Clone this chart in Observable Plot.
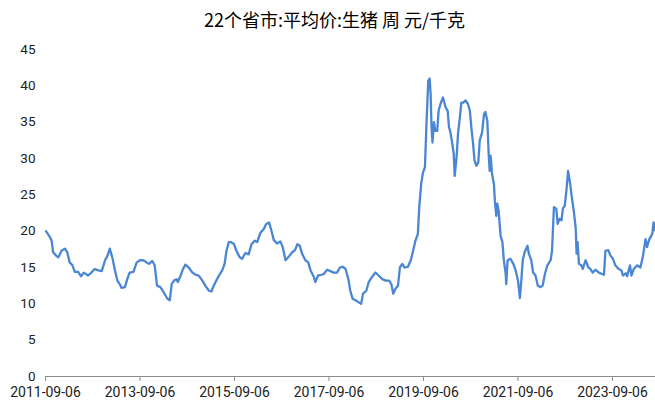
<!DOCTYPE html>
<html>
<head>
<meta charset="utf-8">
<script src="https://cdn.jsdelivr.net/npm/d3@7"></script>
<script src="https://cdn.jsdelivr.net/npm/@observablehq/plot@0.6"></script>
<style>
  body { margin: 0; background: #fff; }
  #title { box-sizing: border-box; width: 655px; height: 38px; line-height: 38px; padding-left: 14px;
           text-align: center; font-family: "Noto Sans CJK SC", sans-serif; font-size: 18px; color: #000; }
</style>
</head>
<body>
<div id="title">22个省市:平均价:生猪 周 元/千克</div>
<div id="chart"></div>
<script>
const titleText = "22个省市:平均价:生猪 周 元/千克";
const tickLabels = ["2011-09-06", "2013-09-06", "2015-09-06", "2017-09-06", "2019-09-06", "2021-09-06", "2023-09-06"];
const yTicks = [0, 5, 10, 15, 20, 25, 30, 35, 40, 45];

// time, in decimal years
const t = [
  2011.69,2011.77,2011.81,2011.84,2011.91,2011.95,2012.02,2012.09,2012.14,2012.19,2012.25,2012.30,2012.37,2012.43,2012.49,2012.58,2012.65,2012.72,2012.80,2012.87,2012.94,2012.99,2013.04,2013.10,2013.15,2013.20,2013.25,2013.29,2013.36,2013.41,2013.46,2013.54,2013.61,2013.68,2013.75,2013.82,
  2013.87,2013.94,2013.99,2014.04,2014.11,2014.18,2014.26,2014.31,2014.35,2014.40,2014.45,2014.48,2014.54,2014.59,2014.64,2014.71,2014.79,2014.86,2014.92,2015.00,2015.07,2015.14,2015.19,2015.24,2015.31,2015.37,2015.42,2015.47,2015.51,2015.56,2015.61,2015.67,2015.72,2015.79,2015.84,2015.91,2015.98,
  2016.04,2016.11,2016.16,2016.23,2016.30,2016.35,2016.41,2016.46,2016.51,2016.58,2016.65,2016.70,2016.76,2016.83,2016.90,2016.96,2017.01,2017.06,2017.11,2017.18,2017.24,2017.29,2017.36,2017.39,2017.45,2017.52,2017.57,2017.64,2017.71,2017.78,2017.85,2017.91,2017.97,2018.03,2018.09,2018.13,2018.18,
  2018.24,2018.31,2018.36,2018.40,2018.47,2018.52,2018.59,2018.66,2018.73,2018.81,2018.88,2018.95,2019.00,2019.04,2019.09,2019.14,2019.18,2019.23,2019.28,2019.35,2019.41,2019.46,2019.51,2019.56,2019.59,2019.63,2019.67,2019.71,2019.74,2019.78,2019.81,2019.83,2019.85,2019.87,2019.90,2019.93,2019.97,2020.00,2020.04,2020.09,2020.15,2020.19,
  2020.22,2020.25,2020.29,2020.32,2020.34,2020.38,2020.41,2020.45,2020.48,2020.52,2020.57,2020.62,2020.66,2020.70,2020.73,2020.76,2020.80,2020.84,2020.87,2020.92,2020.96,2020.99,2021.03,2021.06,2021.08,2021.10,2021.13,2021.17,2021.19,2021.22,2021.24,2021.27,2021.31,2021.35,2021.38,2021.42,2021.43,2021.46,2021.52,2021.58,2021.63,2021.68,2021.72,2021.75,2021.78,2021.82,2021.88,2021.91,2021.96,2022.00,2022.05,2022.10,2022.16,2022.20,2022.25,2022.30,2022.37,2022.40,
  2022.44,2022.49,2022.52,2022.56,2022.60,2022.63,2022.67,2022.71,2022.74,2022.78,2022.81,2022.86,2022.90,2022.92,2022.94,2022.97,2023.02,2023.05,2023.11,2023.17,2023.21,2023.26,2023.32,2023.39,2023.46,2023.50,2023.53,2023.59,2023.64,2023.69,2023.74,2023.81,2023.87,2023.90,2023.96,2023.99,2024.05,2024.08,2024.13,2024.20,2024.27,2024.32,2024.38,2024.41,2024.46,2024.52,2024.55,2024.58
];

// price, 元/千克
const price = [
  20.0,19.2,18.7,17.1,16.6,16.4,17.3,17.6,17.1,15.7,15.3,14.4,14.4,13.8,14.3,13.9,14.3,14.8,14.6,14.5,16.0,16.6,17.6,16.2,14.6,13.2,12.7,12.2,12.3,13.4,14.3,14.4,15.7,16.0,16.0,15.7,
  15.5,15.9,15.3,12.5,12.3,11.6,10.7,10.5,12.7,13.2,13.4,13.0,13.9,14.8,15.4,15.0,14.3,14.0,13.9,13.2,12.4,11.8,11.7,12.5,13.4,14.1,14.6,15.5,17.3,18.5,18.5,18.2,17.3,16.4,16.2,17.0,16.8,
  18.2,18.7,18.5,19.8,20.3,21.0,21.2,20.1,18.8,18.3,18.6,17.8,16.0,16.5,17.1,17.4,18.2,18.0,16.9,16.0,15.7,14.6,13.7,13.0,13.9,14.0,14.1,14.7,14.5,14.3,14.3,15.0,15.1,14.8,13.4,11.8,10.7,
  10.5,10.2,10.0,11.4,11.8,13.0,13.7,14.3,13.9,13.4,13.2,13.2,12.7,11.4,12.1,12.5,15.0,15.5,15.0,15.1,16.0,17.3,18.7,19.6,23.3,26.5,28.1,28.8,34.3,40.7,41.0,38.9,34.3,32.2,35.0,33.8,33.8,36.6,37.5,38.4,37.0,36.6,
  34.3,33.6,32.0,30.6,27.6,30.2,33.4,35.7,37.7,37.7,38.0,37.5,36.6,33.8,32.0,29.7,29.0,29.5,32.5,33.6,36.1,36.4,35.2,30.6,28.3,30.4,27.9,26.5,24.2,22.1,23.8,22.8,19.4,18.5,16.0,14.1,12.7,16.0,16.2,15.5,14.6,13.2,10.8,13.2,16.0,17.1,18.0,16.9,16.0,14.3,13.9,12.5,12.3,12.5,14.1,15.3,16.0,17.3,
  23.3,23.1,21.0,21.7,21.5,23.1,23.5,26.0,28.3,26.7,25.1,22.8,20.5,16.9,18.5,15.5,15.3,14.8,16.0,15.0,14.8,14.3,14.7,14.3,14.1,14.0,17.3,17.4,16.6,16.2,15.3,14.8,14.6,13.9,14.2,13.8,15.3,13.9,14.8,15.3,15.0,16.4,18.9,17.8,18.9,19.6,21.2,20.1
];

function decYear(s) {
  const d = d3.utcParse("%Y-%m-%d")(s);
  const y = d.getUTCFullYear();
  const a = Date.UTC(y, 0, 1), b = Date.UTC(y + 1, 0, 1);
  return y + (d - a) / (b - a);
}
const tickPos = tickLabels.map(decYear);
const data = t.map((x, i) => ({t: x, v: price[i]}));

const chart = Plot.plot({
  width: 655,
  height: 365,
  marginTop: 11,
  marginBottom: 27,
  marginLeft: 45,
  marginRight: 0,
  style: {fontFamily: "Roboto, 'Liberation Sans', sans-serif", fontSize: "14px", color: "#222", background: "#fff"},
  x: {type: "linear", domain: [tickPos[0], t[t.length - 1] + 0.01]},
  y: {domain: [0, 45]},
  marks: [
    Plot.axisY({ticks: yTicks, tickSize: 0, tickPadding: 10, label: null, fontSize: 13.5}),
    Plot.axisX({ticks: tickPos, tickFormat: d => tickLabels[tickPos.indexOf(d)], tickSize: 5, tickPadding: 6,
                label: null, stroke: "#8c8c8c", fontSize: 14}),
    Plot.ruleY([0], {stroke: "#8c8c8c"}),
    Plot.line(data, {x: "t", y: "v", stroke: "#4a86d4", strokeWidth: 2.3})
  ]
});
document.getElementById("chart").appendChild(chart);
</script>
</body>
</html>
